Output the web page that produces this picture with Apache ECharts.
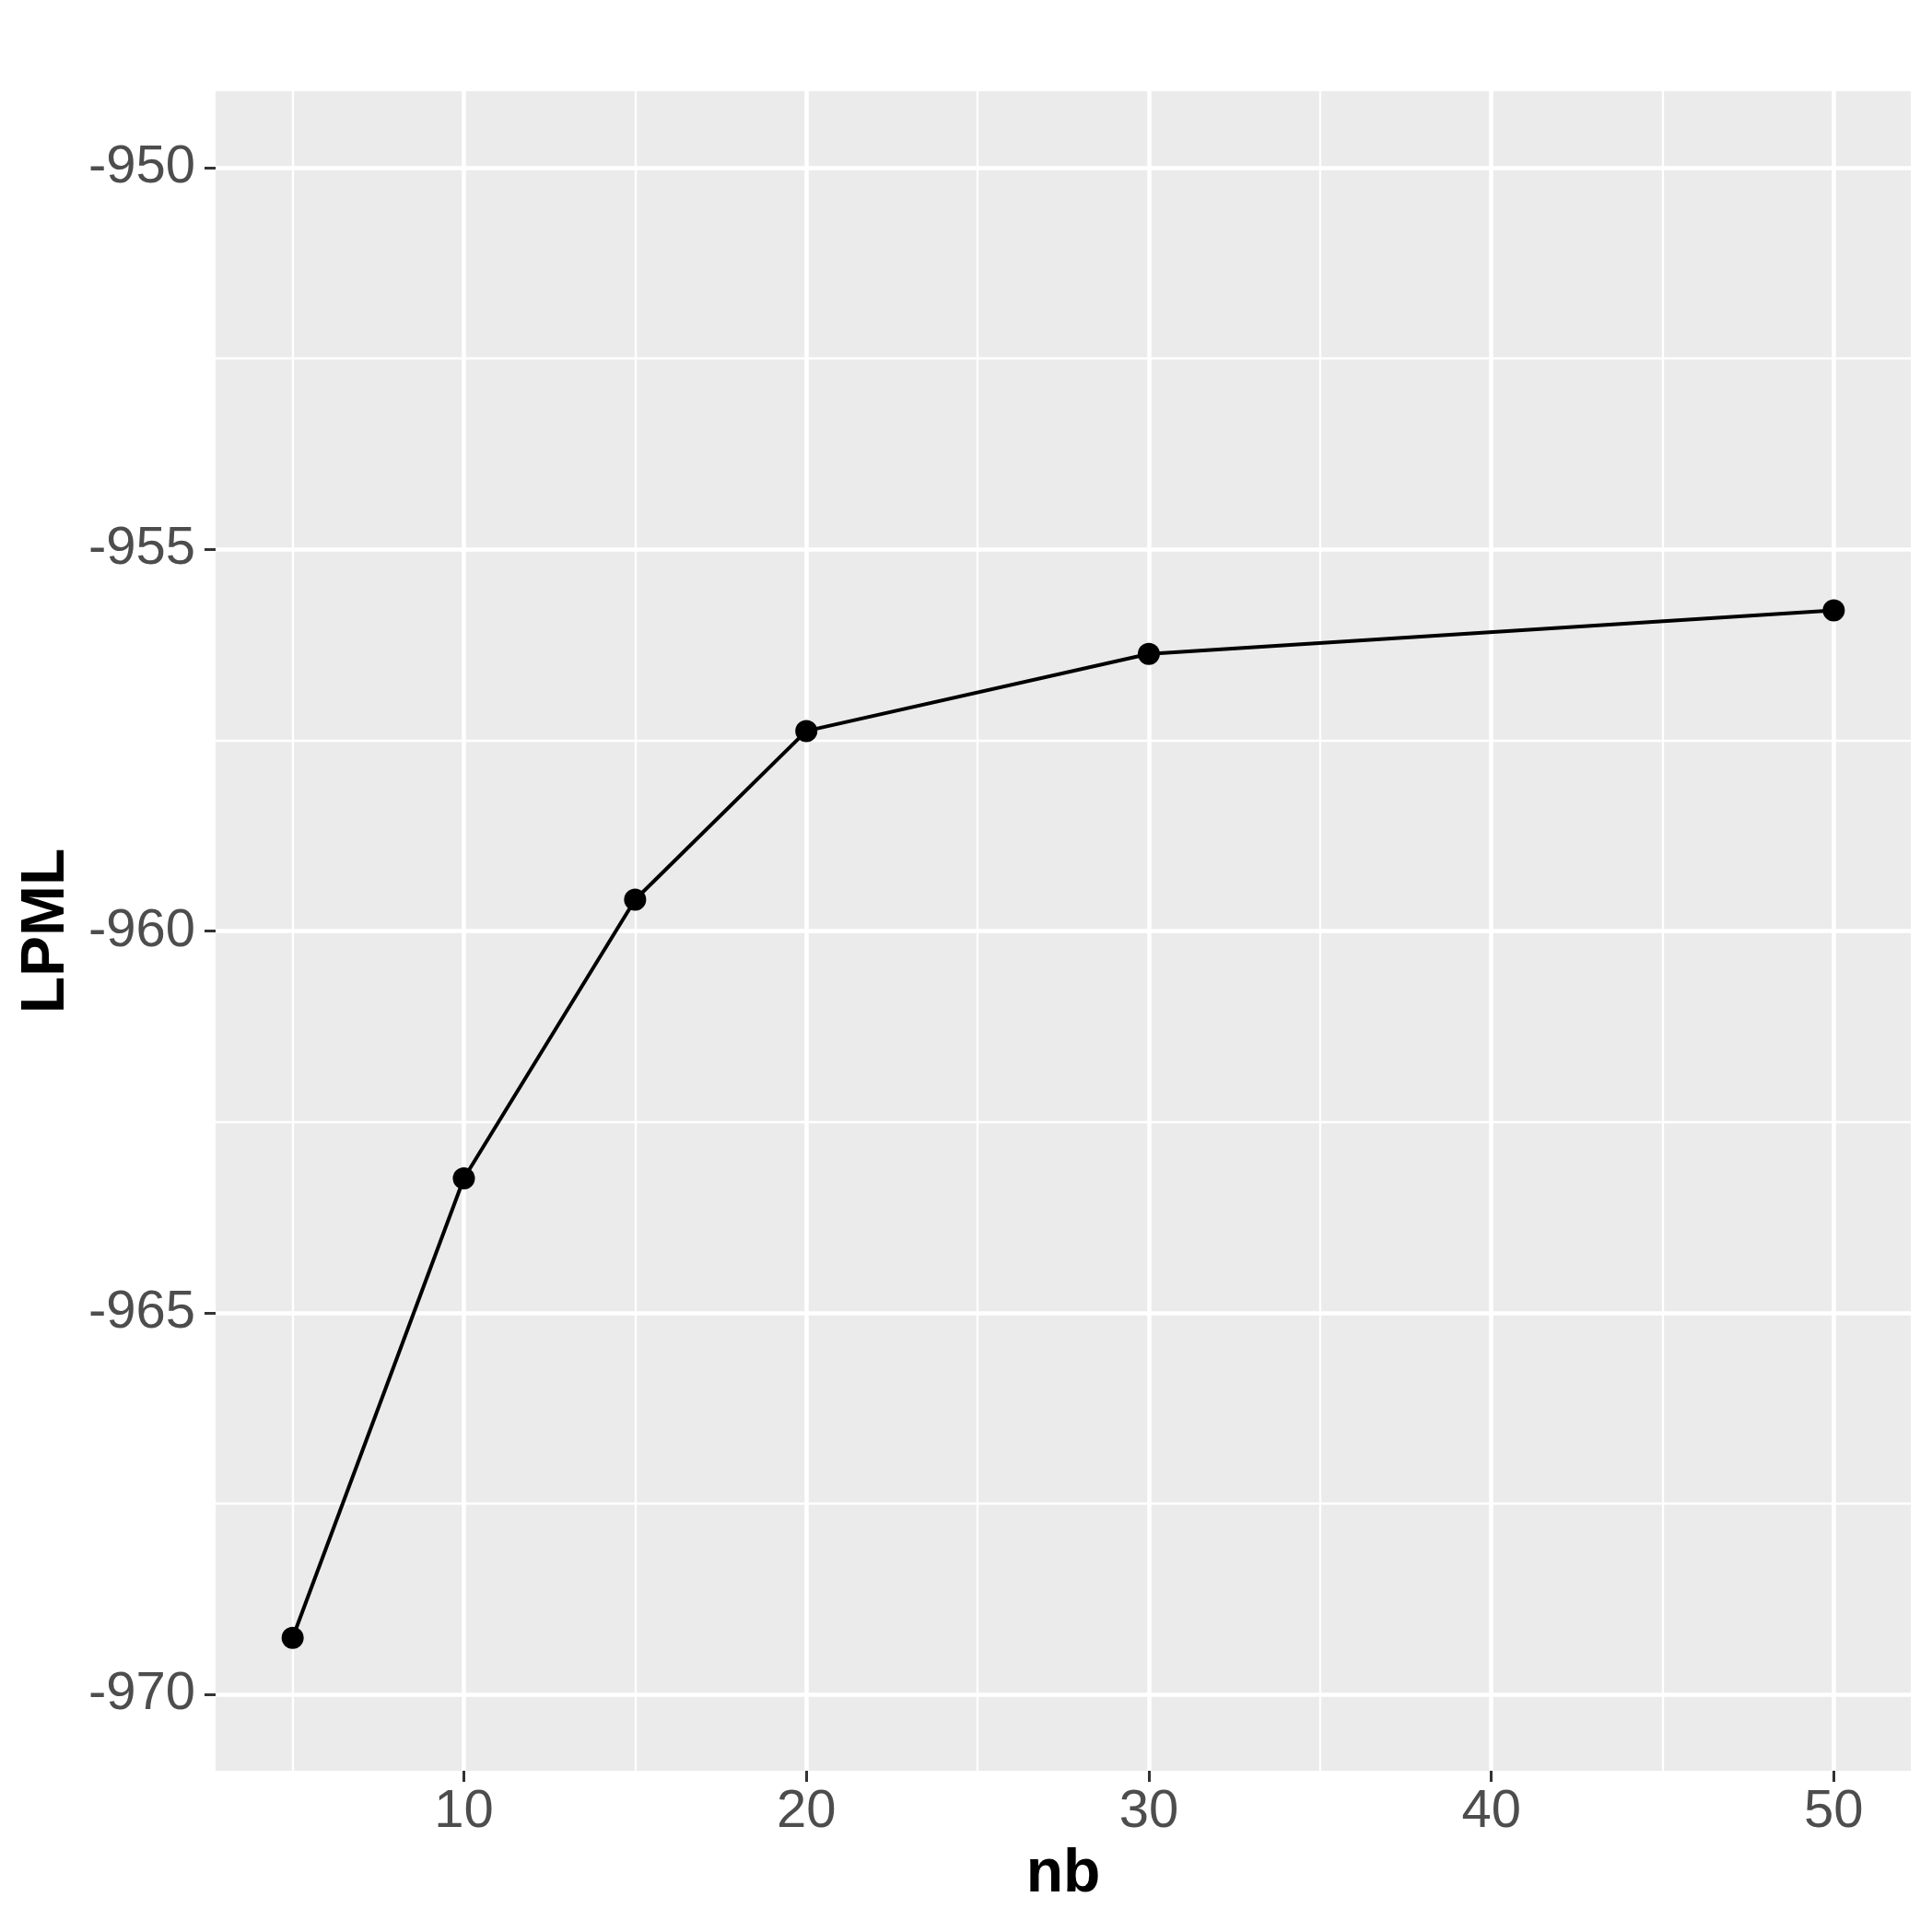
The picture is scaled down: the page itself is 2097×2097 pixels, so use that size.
<!DOCTYPE html>
<html>
<head>
<meta charset="utf-8">
<script src="https://cdn.jsdelivr.net/npm/echarts@6/dist/echarts.min.js"></script>
<style>html,body{margin:0;padding:0;background:#fff;}#c{width:2097px;height:2097px;}</style>
</head>
<body>
<div id="c"></div>
<script>
const nb = [5, 10, 15, 20, 30, 50];
const lpml = [-969.26, -963.24, -959.59, -957.38, -956.37, -955.80];
const xTicks = [10, 20, 30, 40, 50];
const xMinor = [5, 15, 25, 35, 45];
const yTicks = [-970, -965, -960, -955, -950];
const yMinor = [-967.5, -962.5, -957.5, -952.5];

const FONT = '"Liberation Sans", Arial, Helvetica, sans-serif';
const chart = echarts.init(document.getElementById('c'), null, {renderer: 'canvas'});

const gridLines = [];
xMinor.forEach(v => gridLines.push({xAxis: v, lineStyle: {color: '#ffffff', width: 2.3, type: 'solid'}}));
yMinor.forEach(v => gridLines.push({yAxis: v, lineStyle: {color: '#ffffff', width: 2.3, type: 'solid'}}));
xTicks.forEach(v => gridLines.push({xAxis: v, lineStyle: {color: '#ffffff', width: 4.5, type: 'solid'}}));
yTicks.forEach(v => gridLines.push({yAxis: v, lineStyle: {color: '#ffffff', width: 4.5, type: 'solid'}}));

chart.setOption({
  animation: false,
  backgroundColor: '#ffffff',
  grid: {left: 234, right: 23, top: 99, bottom: 175, show: true, backgroundColor: '#EBEBEB', borderWidth: 0, containLabel: false},
  xAxis: {
    type: 'value', min: 2.75, max: 52.25,
    name: 'nb', nameLocation: 'middle', nameGap: 80,
    nameTextStyle: {fontFamily: FONT, fontWeight: 'bold', fontSize: 66, color: '#000000'},
    axisLine: {show: false},
    axisTick: {show: true, customValues: xTicks, length: 12, lineStyle: {color: '#333333', width: 3}},
    axisLabel: {show: true, customValues: xTicks, margin: 16, fontFamily: FONT, fontSize: 58, color: '#4D4D4D'},
    splitLine: {show: false}
  },
  yAxis: {
    type: 'value', min: -971, max: -949,
    name: 'LPML', nameLocation: 'middle', nameGap: 150, nameRotate: 90,
    nameTextStyle: {fontFamily: FONT, fontWeight: 'bold', fontSize: 66, color: '#000000'},
    axisLine: {show: false},
    axisTick: {show: true, customValues: yTicks, length: 12, lineStyle: {color: '#333333', width: 3}},
    axisLabel: {show: true, customValues: yTicks, margin: 22, fontFamily: FONT, fontSize: 58, color: '#4D4D4D'},
    splitLine: {show: false}
  },
  series: [
    {
      type: 'line', data: [], z: 1, silent: true,
      markLine: {silent: true, symbol: ['none', 'none'], label: {show: false}, animation: false, data: gridLines}
    },
    {
      type: 'line', z: 5,
      data: nb.map((x, i) => [x, lpml[i]]),
      lineStyle: {color: '#000000', width: 4},
      itemStyle: {color: '#000000'},
      symbol: 'circle', symbolSize: 24, showSymbol: true
    }
  ]
});
</script>
</body>
</html>
